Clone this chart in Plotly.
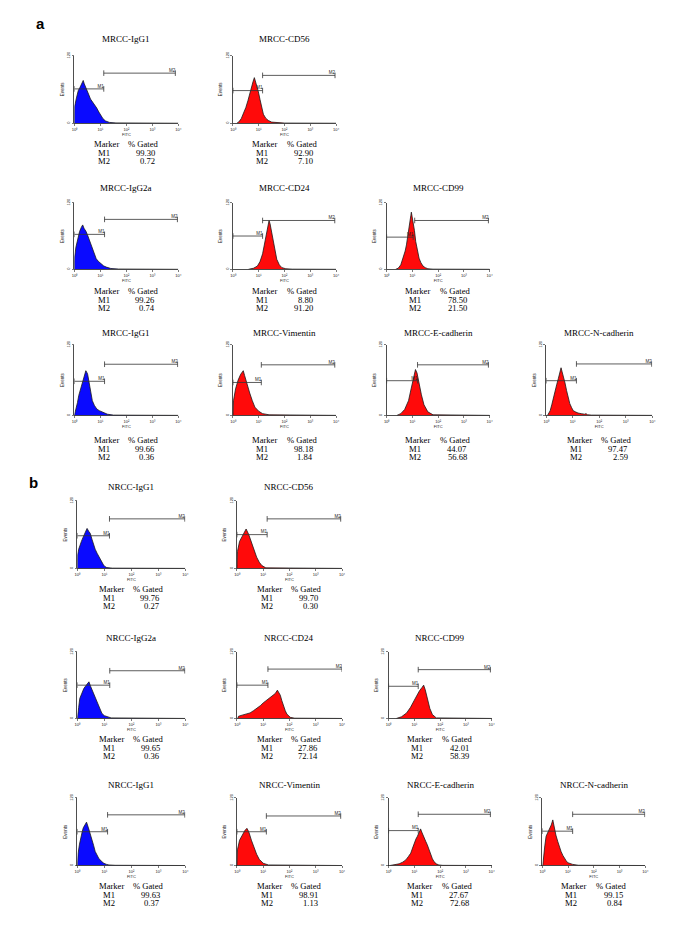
import plotly.graph_objects as go

W, H = 685, 948

# ---------------- data ----------------
titles = ["MRCC-IgG1", "MRCC-CD56", "MRCC-IgG2a", "MRCC-CD24", "MRCC-CD99",
          "MRCC-IgG1", "MRCC-Vimentin", "MRCC-E-cadherin", "MRCC-N-cadherin",
          "NRCC-IgG1", "NRCC-CD56", "NRCC-IgG2a", "NRCC-CD24", "NRCC-CD99",
          "NRCC-IgG1", "NRCC-Vimentin", "NRCC-E-cadherin", "NRCC-N-cadherin"]
panel_row = [0, 0, 1, 1, 1, 2, 2, 2, 2, 3, 3, 4, 4, 4, 5, 5, 5, 5]
panel_col = [0, 1, 0, 1, 2, 0, 1, 2, 3, 0, 1, 0, 1, 2, 0, 1, 2, 3]
isotype = [True, False, True, False, False, True, False, False, False,
           True, False, True, False, False, True, False, False, False]

m1_gated = ["99.30", "92.90", "99.26", "8.80", "78.50", "99.66", "98.18", "44.07", "97.47",
            "99.76", "99.70", "99.65", "27.86", "42.01", "99.63", "98.91", "27.67", "99.15"]
m2_gated = ["0.72", "7.10", "0.74", "91.20", "21.50", "0.36", "1.84", "56.68", "2.59",
            "0.27", "0.30", "0.36", "72.14", "58.39", "0.37", "1.13", "72.68", "0.84"]

# gate markers (log10 FITC positions and event level)
m1_end = [1.13, 1.15, 1.16, 1.15, 1.03, 1.16, 1.10, 1.20, 1.14,
          1.19, 1.15, 1.20, 1.18, 1.15, 1.12, 1.12, 1.15, 1.18]
m1_level = [61, 58, 63, 60, 58, 58, 56, 59, 59, 58, 60, 60, 60, 58, 60, 60, 62, 61]
m2_start = [1.13, 1.15, 1.16, 1.15, 1.09, 1.16, 1.10, 1.20, 1.14,
            1.19, 1.15, 1.20, 1.18, 1.15, 1.12, 1.12, 1.15, 1.18]
m2_end = [3.88, 3.96, 3.96, 3.95, 3.95, 3.97, 3.95, 3.95, 3.98,
          3.98, 3.95, 3.98, 4.0, 3.95, 3.98, 3.95, 3.95, 3.98]
m2_level = [89, 85, 90, 88, 88, 87, 86, 86, 87.5, 88, 88, 86, 89, 88, 90, 88, 91, 91]

# histograms: log10(FITC) positions and event counts
h0_x = [0, 0.01, 0.08, 0.15, 0.22, 0.28, 0.34, 0.38, 0.44, 0.5, 0.56, 0.62, 0.7, 0.78, 0.86, 0.94, 1.02, 1.1, 1.2, 1.35, 1.6, 2.0, 4.0]
h0_y = [0, 30, 45, 58, 64, 70, 76, 70, 62, 57, 50, 43, 38, 34, 27, 20, 14, 8, 4, 1.5, 0.6, 0.3, 0]
h1_x = [0.15, 0.22, 0.32, 0.42, 0.5, 0.58, 0.66, 0.72, 0.78, 0.83, 0.87, 0.92, 0.98, 1.05, 1.12, 1.18, 1.27, 1.37, 1.5, 1.7, 2.0, 4.0]
h1_y = [0, 2, 8, 18, 28, 40, 55, 65, 74, 81, 75, 70, 57, 42, 28, 16, 9, 5, 2, 0.8, 0.3, 0]
h2_x = [0, 0.01, 0.06, 0.13, 0.2, 0.27, 0.32, 0.37, 0.45, 0.52, 0.58, 0.65, 0.71, 0.78, 0.84, 0.93, 1.03, 1.13, 1.23, 1.4, 1.7, 4.0]
h2_y = [0, 22, 40, 56, 68, 76, 80, 74, 68, 60, 52, 43, 34, 26, 19, 14, 10, 6, 4, 1.5, 0.5, 0]
h3_x = [0.6, 0.8, 0.95, 1.05, 1.15, 1.22, 1.3, 1.36, 1.4, 1.44, 1.5, 1.56, 1.63, 1.7, 1.8, 1.9, 2.05, 2.3, 4.0]
h3_y = [0, 2, 6, 14, 28, 45, 65, 80, 88, 82, 68, 50, 32, 18, 8, 3, 1, 0.3, 0]
h4_x = [0.35, 0.45, 0.55, 0.64, 0.72, 0.77, 0.83, 0.87, 0.91, 0.94, 0.96, 0.99, 1.03, 1.08, 1.13, 1.2, 1.26, 1.33, 1.41, 1.5, 1.6, 1.8, 4.0]
h4_y = [0, 2, 8, 20, 33, 44, 60, 73, 88, 97, 103, 95, 88, 70, 50, 32, 20, 12, 6, 3, 1, 0.3, 0]
h5_x = [0, 0.03, 0.06, 0.12, 0.17, 0.24, 0.3, 0.37, 0.44, 0.48, 0.51, 0.55, 0.58, 0.64, 0.69, 0.77, 0.86, 0.96, 1.06, 1.17, 1.27, 1.5, 4.0]
h5_y = [0, 5, 11, 22, 34, 46, 56, 67, 76, 73, 70, 60, 51, 37, 25, 17, 11, 8, 6, 4, 2, 0.5, 0]
h6_x = [0, 0.02, 0.1, 0.2, 0.3, 0.36, 0.4, 0.45, 0.55, 0.65, 0.75, 0.85, 1.0, 1.15, 1.4, 4.0]
h6_y = [0, 25, 45, 60, 70, 74, 76, 68, 52, 38, 25, 14, 7, 3, 1, 0]
h7_x = [0.4, 0.55, 0.7, 0.85, 0.95, 1.05, 1.12, 1.18, 1.25, 1.35, 1.45, 1.6, 1.8, 4.0]
h7_y = [0, 3, 10, 25, 45, 65, 78, 72, 55, 35, 18, 6, 1, 0]
h8_x = [0.05, 0.15, 0.21, 0.27, 0.34, 0.4, 0.46, 0.52, 0.56, 0.6, 0.65, 0.71, 0.77, 0.83, 0.89, 0.96, 1.02, 1.1, 1.2, 1.32, 1.45, 1.5, 1.56, 1.7, 4.0]
h8_y = [0, 8, 18, 31, 42, 53, 63, 73, 81, 74, 67, 55, 42, 30, 20, 13, 8, 6, 4, 3, 2, 3, 1, 0.5, 0]
h9_x = [0, 0.01, 0.05, 0.1, 0.15, 0.22, 0.3, 0.33, 0.36, 0.42, 0.48, 0.54, 0.6, 0.66, 0.73, 0.79, 0.85, 0.91, 0.97, 1.03, 1.09, 1.3, 4.0]
h9_y = [0, 24, 34, 42, 48, 56, 63, 66, 71, 66, 62, 52, 42, 34, 27, 21, 15, 10, 6, 3, 1.5, 0.5, 0]
h10_x = [0, 0.02, 0.1, 0.2, 0.3, 0.35, 0.45, 0.55, 0.65, 0.75, 0.85, 0.95, 1.1, 4.0]
h10_y = [0, 30, 48, 58, 66, 70, 60, 46, 32, 20, 11, 5, 1, 0]
h11_x = [0, 0.02, 0.05, 0.09, 0.16, 0.24, 0.33, 0.43, 0.49, 0.55, 0.61, 0.67, 0.73, 0.79, 0.85, 0.91, 1.0, 1.1, 1.25, 4.0]
h11_y = [0, 6, 20, 36, 46, 54, 60, 66, 58, 51, 44, 36, 28, 21, 14, 9, 5, 3, 1, 0]
h12_x = [0.03, 0.06, 0.2, 0.38, 0.5, 0.63, 0.76, 0.89, 1.0, 1.14, 1.24, 1.33, 1.4, 1.46, 1.54, 1.6, 1.65, 1.71, 1.77, 1.84, 1.9, 2.03, 2.2, 4.0]
h12_y = [0, 4, 6, 8, 10, 14, 18, 23, 28, 33, 36, 39, 42, 45, 51, 46, 42, 32, 23, 14, 8, 2, 0.5, 0]
h13_x = [0.3, 0.5, 0.7, 0.85, 1.0, 1.1, 1.2, 1.3, 1.36, 1.42, 1.5, 1.6, 1.7, 1.85, 4.0]
h13_y = [0, 3, 10, 20, 33, 42, 50, 56, 60, 52, 35, 18, 7, 1, 0]
h14_x = [0, 0.01, 0.03, 0.08, 0.13, 0.18, 0.22, 0.28, 0.34, 0.41, 0.48, 0.54, 0.6, 0.66, 0.72, 0.79, 0.88, 0.98, 1.08, 1.17, 1.4, 4.0]
h14_y = [0, 15, 22, 38, 52, 60, 67, 72, 77, 67, 57, 46, 36, 25, 19, 13, 8, 4, 2, 1, 0.4, 0]
h15_x = [0, 0.02, 0.1, 0.2, 0.3, 0.38, 0.45, 0.55, 0.65, 0.75, 0.85, 1.0, 1.2, 4.0]
h15_y = [0, 28, 45, 55, 62, 66, 60, 45, 32, 20, 11, 4, 1, 0]
h16_x = [0.05, 0.2, 0.41, 0.55, 0.67, 0.77, 0.86, 0.93, 0.99, 1.06, 1.12, 1.18, 1.24, 1.3, 1.37, 1.44, 1.5, 1.57, 1.63, 1.7, 1.76, 1.85, 1.95, 2.1, 4.0]
h16_y = [0, 1, 3, 6, 10, 16, 22, 31, 40, 47, 52, 58, 65, 58, 49, 43, 37, 28, 19, 12, 7, 3, 1, 0.3, 0]
h17_x = [0.02, 0.05, 0.1, 0.15, 0.22, 0.28, 0.35, 0.41, 0.47, 0.53, 0.6, 0.66, 0.73, 0.8, 0.86, 0.92, 0.99, 1.08, 1.18, 1.4, 4.0]
h17_y = [0, 16, 35, 52, 58, 64, 72, 81, 64, 54, 43, 34, 25, 18, 13, 9, 5, 3, 2, 0.5, 0]

hist_x = [h0_x, h1_x, h2_x, h3_x, h4_x, h5_x, h6_x, h7_x, h8_x,
          h9_x, h10_x, h11_x, h12_x, h13_x, h14_x, h15_x, h16_x, h17_x]
hist_y = [h0_y, h1_y, h2_y, h3_y, h4_y, h5_y, h6_y, h7_y, h8_y,
          h9_y, h10_y, h11_y, h12_y, h13_y, h14_y, h15_y, h16_y, h17_y]

x_tick_vals = [1, 10, 100, 1000, 10000]
x_tick_text = ["10⁰", "10¹", "10²", "10³", "10⁴"]
y_tick_vals = [0, 120]

# ---------------- layout geometry (pixels) ----------------
row_top = [51, 199, 342, 499, 651, 798]
row_bottom = [119, 266, 413, 567, 718, 866]
title_y = [34, 184, 330, 485, 637, 785]
table_y = [140, 288, 438, 588, 739, 887]
col_left = [[72, 232, 387, 548], [75, 236, 389, 544]]
col_right = [[177, 336, 491, 655], [184, 342, 493, 648]]

BLUE = "#0a0aff"
RED = "#ff0a0a"
SERIF = "Liberation Serif, Times New Roman, serif"
SANS = "Liberation Sans, Arial, sans-serif"


def px(x):
    return x / W


def py(y):
    return 1 - y / H


fig = go.Figure()
layout = dict(width=W, height=H, margin=dict(l=0, r=0, t=0, b=0),
              paper_bgcolor="white", plot_bgcolor="white", showlegend=False)
annotations = []

for i in range(len(titles)):
    k = i + 1
    xa = "x" if k == 1 else f"x{k}"
    ya = "y" if k == 1 else f"y{k}"
    r, c = panel_row[i], panel_col[i]
    sec = 0 if r < 3 else 1
    L, R = col_left[sec][c], col_right[sec][c]
    T, B = row_top[r], row_bottom[r]
    color = BLUE if isotype[i] else RED

    fx = [10 ** v for v in hist_x[i]]
    fig.add_trace(go.Scatter(x=fx, y=hist_y[i], mode="lines", fill="tozeroy",
                             fillcolor=color, line=dict(color="#1a1a1a", width=0.8),
                             xaxis=xa, yaxis=ya, hoverinfo="skip"))
    # M1 gate
    fig.add_trace(go.Scatter(x=[10 ** 0, 10 ** m1_end[i]], y=[m1_level[i], m1_level[i]],
                             mode="lines+markers",
                             line=dict(color="#333333", width=0.8),
                             marker=dict(symbol="line-ns-open", size=4,
                                         line=dict(color="#333333", width=0.8)),
                             xaxis=xa, yaxis=ya, hoverinfo="skip"))
    # M2 gate
    fig.add_trace(go.Scatter(x=[10 ** m2_start[i], 10 ** m2_end[i]], y=[m2_level[i], m2_level[i]],
                             mode="lines+markers",
                             line=dict(color="#333333", width=0.8),
                             marker=dict(symbol="line-ns-open", size=4,
                                         line=dict(color="#333333", width=0.8)),
                             xaxis=xa, yaxis=ya, hoverinfo="skip"))
    fig.add_trace(go.Scatter(x=[10 ** m1_end[i], 10 ** m2_end[i]], y=[m1_level[i], m2_level[i]],
                             mode="text", text=["M1", "M2"], textposition="top left",
                             textfont=dict(size=4.5, color="#222222", family=SANS),
                             xaxis=xa, yaxis=ya, hoverinfo="skip"))

    layout["xaxis" if k == 1 else f"xaxis{k}"] = dict(
        domain=[px(L), px(R)], anchor=ya, type="log", range=[0, 4],
        tickvals=x_tick_vals, ticktext=x_tick_text, tickfont=dict(size=4, family=SANS, color="#222"),
        ticks="outside", ticklen=2, tickwidth=0.6, tickcolor="#222",
        showline=True, linecolor="#222", linewidth=0.8, showgrid=False, zeroline=False,
        title=dict(text="FITC", font=dict(size=4, family=SANS, color="#222"), standoff=1))
    layout["yaxis" if k == 1 else f"yaxis{k}"] = dict(
        domain=[py(B), py(T)], anchor=xa, range=[0, 120],
        tickvals=y_tick_vals, tickangle=-90, tickfont=dict(size=4, family=SANS, color="#222"),
        ticks="outside", ticklen=2, tickwidth=0.6, tickcolor="#222",
        showline=True, linecolor="#222", linewidth=0.8, showgrid=False, zeroline=False,
        title=dict(text="Events", font=dict(size=4.5, family=SANS, color="#222"), standoff=1))

    cx = (L + R) / 2
    annotations.append(dict(text=titles[i], x=px(cx), y=py(title_y[r]), xref="paper", yref="paper",
                            showarrow=False, xanchor="center", yanchor="middle",
                            font=dict(size=9, family=SERIF, color="black")))
    ty = table_y[r]
    rows = [("Marker", "% Gated"), ("M1", m1_gated[i]), ("M2", m2_gated[i])]
    for j, (a, b) in enumerate(rows):
        yy = py(ty + j * 8.6)
        if j == 0:
            annotations.append(dict(text=a, x=px(cx - 34), y=yy, xref="paper", yref="paper",
                                    showarrow=False, xanchor="left", yanchor="middle", borderpad=0,
                                    font=dict(size=8.6, family=SERIF, color="black")))
            annotations.append(dict(text=b, x=px(cx + 1), y=yy, xref="paper", yref="paper",
                                    showarrow=False, xanchor="left", yanchor="middle", borderpad=0,
                                    font=dict(size=8.6, family=SERIF, color="black")))
        else:
            annotations.append(dict(text=a, x=px(cx - 23), y=yy, xref="paper", yref="paper",
                                    showarrow=False, xanchor="center", yanchor="middle", borderpad=0,
                                    font=dict(size=8.6, family=SERIF, color="black")))
            annotations.append(dict(text=b, x=px(cx + 30), y=yy, xref="paper", yref="paper",
                                    showarrow=False, xanchor="right", yanchor="middle", borderpad=0,
                                    font=dict(size=8.6, family=SERIF, color="black")))

annotations.append(dict(text="<b>a</b>", x=px(38), y=py(19), xref="paper", yref="paper",
                        showarrow=False, xanchor="center", yanchor="middle",
                        font=dict(size=15, family=SANS, color="black")))
annotations.append(dict(text="<b>b</b>", x=px(31), y=py(481), xref="paper", yref="paper",
                        showarrow=False, xanchor="center", yanchor="middle",
                        font=dict(size=15, family=SANS, color="black")))

layout["annotations"] = annotations
fig.update_layout(**layout)
fig.write_html("out.html",
               config={"displayModeBar": False, "staticPlot": True},
               post_script="document.body.style.margin='0px';document.body.style.overflow='hidden';")
